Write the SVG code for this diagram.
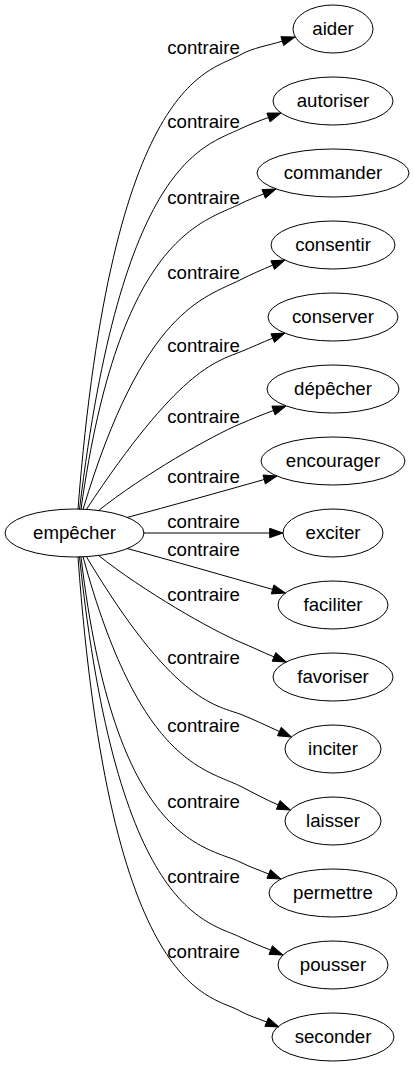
<svg xmlns="http://www.w3.org/2000/svg" width="414" height="1067" viewBox="0 0 414 1067">
<style>
text{font-family:"Liberation Sans",Arial,sans-serif;font-size:18.67px;fill:#000}
.n ellipse{fill:none;stroke:#000;stroke-width:1}
.n text{text-anchor:middle}
.e path{fill:none;stroke:#000;stroke-width:1}
.e polygon{fill:#000;stroke:#000;stroke-width:1}
.lbl text{text-anchor:middle}
</style>
<rect width="414" height="1067" fill="#fff"/>
<g id="connectors" class="e">
<path d="M78,509 C112,75 210,72 240,55 C253.6,47.4 267.4,45.9 282.3,41.1"/>
<polygon points="280.9,36.7 295,37 283.7,45.5"/>
<path d="M79.5,509.3 C121.5,159.3 204,146.6 240,129 C249.7,124.3 258.3,121.2 268.5,117.5"/>
<polygon points="266.9,113.1 281,113 270.1,121.9"/>
<path d="M81,509.2 C119.5,234 204,222 240,204 C248,200 255.3,197.2 263.7,193.9"/>
<polygon points="262,189.6 276,189 265.4,198.2"/>
<path d="M83,509.5 C143,309.5 204,298 240,280 C251.3,274.4 261.1,270 272.7,265.1"/>
<polygon points="270.9,260.8 285,260 274.5,269.4"/>
<path d="M86,510 C178.4,370 215,362 240,352 C251.5,347.4 261.3,342.9 272.7,338.1"/>
<polygon points="270.9,333.8 285,333 274.5,342.4"/>
<path d="M98,511 C143,475 212,435.7 240,424 C251.6,419.1 261.6,414.8 273.5,410.5"/>
<polygon points="271.9,406.1 286,406 275.1,414.9"/>
<path d="M127,517.5 C170,506 220,492 264.2,479.5"/>
<polygon points="263,475 277,476 265.4,484"/>
<path d="M143.5,533 L269.7,533"/>
<polygon points="269.7,528.3 283,533 269.7,537.7"/>
<path d="M127,548.5 C170,560 225,576 272.6,589.4"/>
<polygon points="273.9,584.9 285.4,593 271.3,593.9"/>
<path d="M98,555 C143,591 212,630.3 240,642 C252,647 262,651.9 274,656.9"/>
<polygon points="275.8,652.6 286.3,662 272.2,661.2"/>
<path d="M86,556 C172,700 214,705 240,714 C254,719.6 265.6,725.3 279.4,731.5"/>
<polygon points="281.3,727.2 291.5,737 277.5,735.8"/>
<path d="M83,556.5 C139,763 205,769 240,786 C253.3,792.7 264.5,799.1 278.2,804.9"/>
<polygon points="280,800.6 290.5,810 276.4,809.2"/>
<path d="M81,556.8 C115,845 206,846 240,862 C249.7,866.9 258.6,869.9 268.7,874"/>
<polygon points="270.5,869.7 281,879 266.9,878.3"/>
<path d="M79.5,556.7 C117,915 207,921 240,937 C250.5,942.1 259.8,945.8 270.7,950.1"/>
<polygon points="272.4,945.8 283,955 269,954.4"/>
<path d="M78,557 C110,1000 211,994 240,1011 C248.8,1015.9 257.4,1018.2 266.7,1022"/>
<polygon points="268.5,1017.7 279,1027 264.9,1026.3"/>
</g>
<g id="edge-labels" class="lbl">
<text x="203.5" y="54">contraire</text>
<text x="203.5" y="128">contraire</text>
<text x="203.5" y="204">contraire</text>
<text x="203.5" y="279">contraire</text>
<text x="203.5" y="352">contraire</text>
<text x="203.5" y="423">contraire</text>
<text x="203.5" y="483">contraire</text>
<text x="203.5" y="528">contraire</text>
<text x="203.5" y="556">contraire</text>
<text x="203.5" y="601">contraire</text>
<text x="203.5" y="664">contraire</text>
<text x="203.5" y="732">contraire</text>
<text x="203.5" y="808">contraire</text>
<text x="203.5" y="883">contraire</text>
<text x="203.5" y="958">contraire</text>
</g>
<g id="node-empecher" class="n"><ellipse cx="74.5" cy="533" rx="69.5" ry="24"/><text x="74.5" y="539">empêcher</text></g>
<g id="node-aider" class="n"><ellipse cx="333" cy="29" rx="40" ry="24"/><text x="333" y="35">aider</text></g>
<g id="node-autoriser" class="n"><ellipse cx="333" cy="101" rx="60" ry="24"/><text x="333" y="107">autoriser</text></g>
<g id="node-commander" class="n"><ellipse cx="333" cy="173" rx="76" ry="24"/><text x="333" y="179">commander</text></g>
<g id="node-consentir" class="n"><ellipse cx="333" cy="245" rx="62" ry="24"/><text x="333" y="251">consentir</text></g>
<g id="node-conserver" class="n"><ellipse cx="333" cy="317" rx="65" ry="24"/><text x="333" y="323">conserver</text></g>
<g id="node-depecher" class="n"><ellipse cx="333" cy="389" rx="66" ry="24"/><text x="333" y="395">dépêcher</text></g>
<g id="node-encourager" class="n"><ellipse cx="333" cy="461" rx="72" ry="24"/><text x="333" y="467">encourager</text></g>
<g id="node-exciter" class="n"><ellipse cx="333" cy="533" rx="50" ry="24"/><text x="333" y="539">exciter</text></g>
<g id="node-faciliter" class="n"><ellipse cx="333" cy="605" rx="55" ry="24"/><text x="333" y="611">faciliter</text></g>
<g id="node-favoriser" class="n"><ellipse cx="333" cy="677" rx="60" ry="24"/><text x="333" y="683">favoriser</text></g>
<g id="node-inciter" class="n"><ellipse cx="333" cy="749" rx="48" ry="24"/><text x="333" y="755">inciter</text></g>
<g id="node-laisser" class="n"><ellipse cx="333" cy="821" rx="48" ry="24"/><text x="333" y="827">laisser</text></g>
<g id="node-permettre" class="n"><ellipse cx="333" cy="893" rx="64" ry="24"/><text x="333" y="899">permettre</text></g>
<g id="node-pousser" class="n"><ellipse cx="333" cy="965" rx="55" ry="24"/><text x="333" y="971">pousser</text></g>
<g id="node-seconder" class="n"><ellipse cx="333" cy="1037" rx="61" ry="24"/><text x="333" y="1043">seconder</text></g>
</svg>
